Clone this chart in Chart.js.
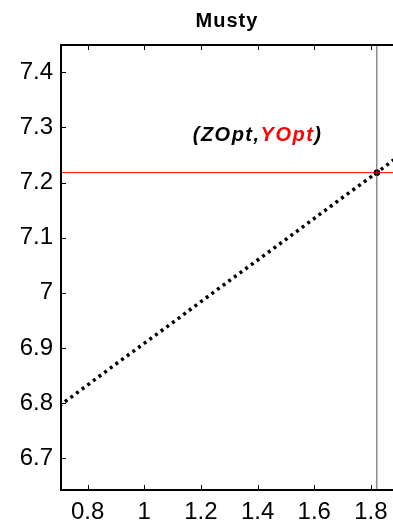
<!DOCTYPE html>
<html>
<head>
<meta charset="utf-8">
<script src="https://cdn.jsdelivr.net/npm/chart.js@4"></script>
<style>
  html, body { margin: 0; padding: 0; background: #fff; }
  #wrap { width: 393px; height: 526px; }
</style>
</head>
<body>
<div id="wrap"><canvas id="musty"></canvas></div>
<script>
// values
const curveX = [0.7, 0.9, 1.1, 1.3, 1.5, 1.7, 1.821, 1.88];
const curveY = [6.795, 6.871, 6.946, 7.022, 7.097, 7.173, 7.218, 7.241];
const zOpt = 1.821;
const yOpt = 7.218;
const xTicks = [0.8, 1, 1.2, 1.4, 1.6, 1.8];
const yTicks = [6.7, 6.8, 6.9, 7, 7.1, 7.2, 7.3, 7.4];
const xRange = [0.706, 1.878];
const yRange = [6.6425, 7.4495];
const titleText = 'Musty';

const FONT = 'Liberation Sans, Arial, sans-serif';

// box lines + inward ticks + title + the (ZOpt,YOpt) label
const frame = {
  id: 'frame',
  afterDatasetsDraw(chart) {
    const { ctx, chartArea: a, scales } = chart;
    ctx.save();
    ctx.strokeStyle = '#000';
    ctx.lineWidth = 2;
    ctx.beginPath();
    ctx.moveTo(a.right + 5, a.top);
    ctx.lineTo(a.left, a.top);
    ctx.lineTo(a.left, a.bottom);
    ctx.lineTo(a.right + 5, a.bottom);
    ctx.stroke();

    ctx.lineWidth = 1;
    ctx.beginPath();
    xTicks.forEach(v => {
      const px = Math.round(scales.x.getPixelForValue(v)) + 0.5;
      ctx.moveTo(px, a.bottom);
      ctx.lineTo(px, a.bottom - 5);
      ctx.moveTo(px, a.top);
      ctx.lineTo(px, a.top + 5);
    });
    yTicks.forEach(v => {
      const py = Math.round(scales.y.getPixelForValue(v)) + 0.5;
      ctx.moveTo(a.left, py);
      ctx.lineTo(a.left + 5, py);
    });
    ctx.stroke();

    // title, centred over the axes
    ctx.fillStyle = '#000';
    ctx.font = 'bold 20px ' + FONT;
    ctx.letterSpacing = '1px';
    ctx.textAlign = 'center';
    ctx.textBaseline = 'alphabetic';
    ctx.fillText(titleText, (a.left + a.right) / 2, 27);

    // annotation
    ctx.font = 'italic bold 20px ' + FONT;
    ctx.letterSpacing = '1.5px';
    ctx.textAlign = 'left';
    let tx = scales.x.getPixelForValue(1.171);
    const ty = scales.y.getPixelForValue(7.276);
    const parts = [['(ZOpt,', '#000'], ['YOpt', '#ff0000'], [')', '#000']];
    parts.forEach(([s, c]) => {
      ctx.fillStyle = c;
      ctx.fillText(s, tx, ty);
      tx += ctx.measureText(s).width;
    });
    ctx.restore();
  }
};

new Chart(document.getElementById('musty'), {
  type: 'scatter',
  data: {
    datasets: [
      {
        label: 'optimum vertical',
        data: [{ x: zOpt, y: yRange[0] }, { x: zOpt, y: yRange[1] }],
        showLine: true,
        borderColor: '#555',
        borderWidth: 1,
        pointRadius: 0,
      },
      {
        label: 'optimum horizontal',
        data: [{ x: xRange[0], y: yOpt }, { x: xRange[1] + 0.05, y: yOpt }],
        showLine: true,
        borderColor: '#ff0000',
        borderWidth: 1,
        pointRadius: 0,
      },
      {
        label: 'Musty',
        data: curveX.map((x, i) => ({ x, y: curveY[i] })),
        showLine: true,
        borderColor: '#000',
        borderWidth: 3.5,
        borderDash: [3, 4],
        borderCapStyle: 'butt',
        pointRadius: 0,
      },
      {
        label: 'opt point',
        data: [{ x: zOpt, y: yOpt }],
        backgroundColor: '#000',
        borderColor: '#000',
        pointRadius: 3,
      },
    ],
  },
  options: {
    responsive: true,
    maintainAspectRatio: false,
    animation: false,
    layout: { autoPadding: false, padding: { left: 0, right: 0, top: 45, bottom: 0 } },
    plugins: {
      legend: { display: false },
      tooltip: { enabled: false },
      title: { display: false },
    },
    scales: {
      x: {
        type: 'linear',
        min: xRange[0],
        max: xRange[1],
        afterBuildTicks: s => { s.ticks = xTicks.map(v => ({ value: v })); },
        afterFit: s => { s.height = 36; s.paddingLeft = 0; s.paddingRight = 0; },
        grid: { display: false, drawTicks: false },
        border: { display: false },
        ticks: {
          color: '#000',
          padding: 8,
          maxRotation: 0,
          font: { family: FONT, size: 24 },
          callback: v => String(v),
        },
      },
      y: {
        type: 'linear',
        min: yRange[0],
        max: yRange[1],
        afterBuildTicks: s => { s.ticks = yTicks.map(v => ({ value: v })); },
        afterFit: s => { s.width = 61; s.paddingTop = 0; s.paddingBottom = 0; },
        grid: { display: false, drawTicks: false },
        border: { display: false },
        ticks: {
          color: '#000',
          padding: 8,
          font: { family: FONT, size: 24 },
          callback: v => String(v),
        },
      },
    },
  },
  plugins: [frame],
});
</script>
</body>
</html>
